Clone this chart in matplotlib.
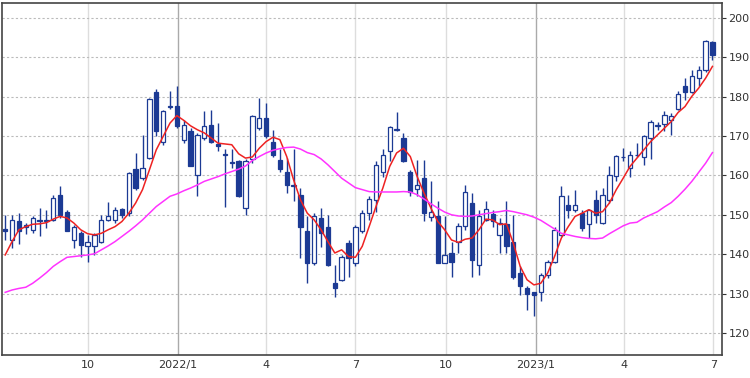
import matplotlib
matplotlib.use("Agg")
import matplotlib.pyplot as plt
import matplotlib.dates as mdates
import pandas as pd

# weekly candles (Fridays)
dates = pd.date_range("2021-07-09", periods=104, freq="7D")

opens = [146.5, 143.6, 148.3, 147.0, 146.2, 148.6, 148.7, 148.7, 155.1, 150.7,
         143.6, 145.3, 142.0, 142.0, 143.2, 148.7, 148.7, 151.4, 150.4, 161.6,
         159.3, 164.4, 181.1, 168.6, 177.4, 177.7, 169.1, 171.4, 160.2, 169.5,
         172.9, 167.9, 165.5, 163.3, 163.6, 151.7, 164.2, 172.0, 174.6, 168.6,
         164.0, 161.0, 157.2, 155.1, 145.8, 137.7, 149.2, 147.0, 132.8, 133.5,
         142.8, 137.7, 145.8, 150.4, 153.8, 161.0, 166.1, 171.6, 169.5, 161.0,
         156.6, 159.3, 149.4, 149.7, 137.7, 140.2, 143.2, 147.2, 153.1, 137.3,
         148.7, 150.2, 144.9, 147.7, 143.0, 135.2, 131.4, 130.4, 130.5, 134.7,
         138.1, 144.9, 152.5, 151.1, 150.4, 147.7, 153.8, 147.9, 153.8, 159.9,
         164.6, 161.9, 165.1, 164.8, 169.5, 172.5, 173.1, 174.2, 176.9, 182.6,
         181.1, 184.7, 186.7, 193.8]
closes = [146.0, 148.7, 145.8, 147.5, 149.2, 148.5, 148.5, 154.2, 150.0, 146.0,
          147.0, 142.4, 143.0, 144.9, 148.7, 149.7, 151.3, 150.0, 160.6, 156.8,
          161.9, 179.5, 171.2, 176.3, 177.4, 172.5, 172.9, 162.5, 170.3, 172.5,
          168.4, 167.6, 165.3, 163.1, 154.7, 163.6, 175.0, 174.6, 170.1, 165.3,
          161.6, 157.6, 157.6, 147.0, 137.7, 149.6, 145.3, 137.3, 131.4, 139.4,
          139.0, 147.0, 150.4, 154.0, 162.7, 165.3, 172.2, 171.6, 163.6, 155.9,
          157.6, 150.4, 150.6, 137.7, 139.8, 138.1, 147.2, 155.7, 138.5, 149.6,
          151.4, 148.3, 147.9, 142.0, 134.3, 131.8, 129.9, 129.7, 134.7, 138.1,
          146.2, 154.7, 151.1, 152.5, 146.6, 151.1, 150.0, 155.1, 160.2, 165.0,
          164.8, 165.3, 165.3, 169.9, 173.7, 172.7, 175.4, 175.2, 180.8, 181.1,
          185.2, 186.7, 194.1, 190.7]
highs = [150.0, 150.0, 150.4, 148.0, 149.6, 151.7, 151.3, 155.0, 157.2, 151.3,
         147.5, 146.0, 144.9, 145.3, 150.0, 153.2, 152.1, 151.7, 160.8, 165.7,
         170.3, 179.7, 181.9, 176.7, 181.4, 182.8, 174.2, 172.0, 170.8, 176.3,
         176.7, 173.3, 166.6, 166.6, 164.0, 164.2, 175.4, 179.7, 178.4, 171.6,
         166.6, 164.4, 166.6, 156.8, 149.6, 150.4, 151.7, 150.0, 137.3, 139.8,
         143.6, 147.5, 151.3, 154.7, 163.6, 166.6, 172.5, 176.0, 170.9, 161.4,
         164.0, 164.0, 158.5, 153.4, 149.6, 143.2, 147.9, 157.6, 155.5, 151.3,
         153.6, 151.3, 149.2, 153.4, 150.0, 136.9, 131.8, 130.5, 135.2, 138.6,
         147.0, 157.4, 155.1, 156.4, 151.3, 151.4, 156.4, 156.8, 162.3, 165.3,
         167.0, 166.1, 168.2, 170.3, 174.2, 173.5, 176.3, 175.8, 181.4, 184.7,
         186.9, 187.7, 194.5, 194.1]
lows = [143.5, 141.5, 142.6, 145.0, 145.4, 144.5, 146.6, 148.3, 149.2, 145.8,
        141.5, 139.4, 138.1, 139.8, 142.8, 148.3, 148.0, 149.2, 149.6, 156.4,
        158.9, 164.2, 169.9, 167.8, 176.9, 172.0, 168.2, 162.3, 154.7, 169.1,
        168.2, 166.1, 152.1, 161.9, 154.5, 150.0, 163.1, 171.6, 169.5, 164.8,
        161.0, 155.5, 153.4, 139.0, 132.6, 137.3, 141.9, 136.9, 129.2, 133.1,
        134.3, 136.9, 145.3, 148.7, 150.8, 159.7, 163.6, 171.4, 163.3, 154.7,
        154.7, 148.3, 148.3, 137.7, 137.7, 134.3, 140.3, 146.2, 134.3, 134.7,
        148.3, 147.0, 140.3, 140.3, 133.6, 129.7, 125.8, 124.2, 128.0, 133.9,
        137.7, 144.5, 149.2, 150.8, 145.8, 144.1, 147.9, 147.7, 153.0, 158.5,
        163.6, 159.7, 164.8, 162.7, 164.2, 171.6, 171.2, 170.3, 176.7, 179.2,
        180.9, 182.6, 186.4, 189.4]

# 13-week and 26-week moving averages
ma13 = [139.8, 143.2, 146.2, 147.0, 147.6, 147.7, 148.0, 148.9, 149.6, 149.2,
        147.9, 146.2, 145.2, 144.9, 145.3, 146.2, 147.0, 148.3, 150.4, 153.0,
        156.4, 161.4, 166.5, 169.9, 173.3, 175.2, 174.0, 172.6, 171.6, 170.8,
        169.5, 168.2, 168.0, 167.8, 165.5, 164.4, 164.7, 166.9, 168.6, 169.7,
        169.1, 164.8, 158.9, 153.8, 150.4, 148.7, 146.2, 143.2, 140.3, 141.1,
        139.4, 139.2, 142.0, 147.0, 152.1, 156.8, 162.3, 165.7, 166.9, 164.8,
        159.7, 155.5, 151.7, 148.3, 146.2, 143.6, 143.0, 143.8, 144.1, 146.2,
        148.9, 148.7, 147.5, 147.7, 142.8, 136.9, 133.5, 132.2, 132.6, 135.2,
        139.4, 144.1, 147.0, 149.6, 150.4, 151.3, 150.4, 150.8, 153.0, 156.4,
        159.3, 162.3, 164.4, 166.5, 168.6, 170.3, 172.0, 173.7, 176.0, 177.5,
        180.1, 182.2, 184.7, 187.7]
ma26 = [130.3, 130.9, 131.3, 131.6, 132.6, 133.9, 135.3, 136.9, 138.1, 139.2,
        139.4, 139.6, 139.8, 140.1, 141.1, 142.1, 143.2, 144.5, 145.8, 147.2,
        148.7, 150.4, 152.1, 153.4, 154.7, 155.3, 156.1, 156.8, 157.6, 158.5,
        159.1, 159.7, 160.4, 161.0, 161.6, 162.4, 163.8, 164.8, 165.7, 166.4,
        166.8, 167.1, 167.2, 166.7, 165.8, 165.3, 164.2, 162.7, 161.0, 159.3,
        158.1, 156.9, 156.4, 155.9, 155.8, 155.8, 155.8, 155.8, 155.9, 155.8,
        155.1, 154.0, 152.8, 151.7, 150.7, 150.0, 149.7, 149.6, 149.7, 150.0,
        150.3, 150.6, 150.8, 151.1, 150.8, 150.4, 150.0, 149.4, 148.6, 147.5,
        146.4, 145.3, 144.9, 144.5, 144.2, 144.0, 143.9, 144.1, 145.2, 146.2,
        147.2, 147.9, 148.1, 149.2, 150.0, 150.8, 152.0, 153.1, 154.7, 156.5,
        158.5, 160.8, 163.1, 165.8]

tick_dates = pd.to_datetime(["2021-10-01", "2022-01-01", "2022-04-01", "2022-07-01",
                             "2022-10-01", "2023-01-01", "2023-04-01", "2023-07-01"])
tick_labels = ["10", "2022/1", "4", "7", "10", "2023/1", "4", "7"]

navy = "#1c3a94"

fig = plt.figure(figsize=(7.5, 3.78), dpi=100)
ax = fig.add_axes([0.003, 0.061, 0.96, 0.931])

# grid
for d, lab in zip(tick_dates, tick_labels):
    c = "#aaaaaa" if "/" in lab else "#dddddd"
    ax.axvline(d, color=c, lw=1, zorder=0)
for v in range(120, 201, 10):
    ax.axhline(v, color="#bbbbbb", lw=0.8, ls=(0, (2, 2)), zorder=0)

x = mdates.date2num(dates)
ax.vlines(x, lows, highs, color=navy, lw=1, zorder=2)
for xi, o, c in zip(x, opens, closes):
    up = c >= o
    ax.bar(xi, max(abs(c - o), 0.15), bottom=min(o, c), width=4.4,
           facecolor="white" if up else navy, edgecolor=navy, lw=0.9, zorder=3)

ax.plot(x, ma13, color="#ee2222", lw=1.1, zorder=4)
ax.plot(x, ma26, color="#ff33ff", lw=1.1, zorder=4)

ax.set_xlim(mdates.date2num(pd.Timestamp("2021-07-06")),
            mdates.date2num(pd.Timestamp("2023-07-10")))
ax.set_ylim(114.4, 203.8)
ax.set_xticks(mdates.date2num(tick_dates))
ax.set_xticklabels(tick_labels)
ax.set_yticks(range(120, 201, 10))
ax.yaxis.tick_right()
ax.tick_params(axis="both", labelsize=8, colors="#333333", length=3, width=0.8)
ax.tick_params(axis="y", pad=1.5)
ax.tick_params(axis="x", length=0, pad=4)
for s in ax.spines.values():
    s.set_color("#444444")
    s.set_linewidth(1.2)

fig.savefig("out.png", dpi=100)
